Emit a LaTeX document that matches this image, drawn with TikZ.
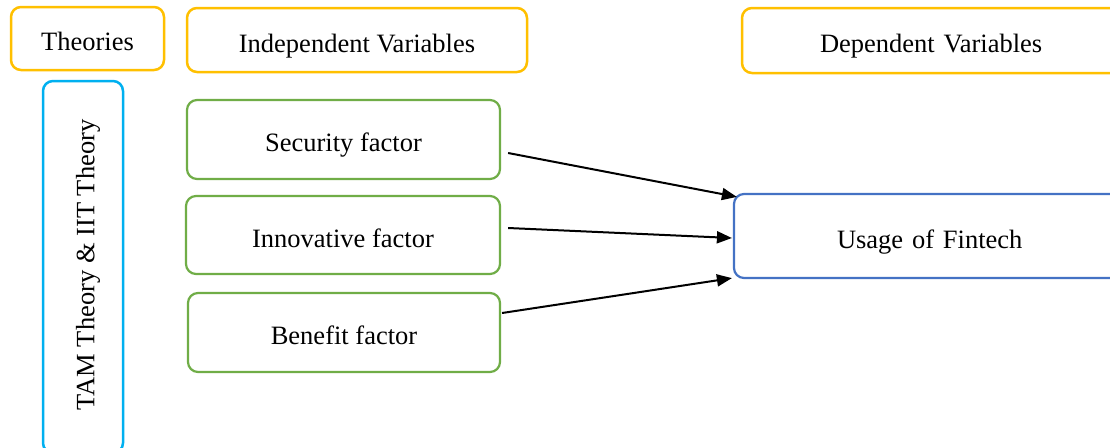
\documentclass[tikz,border=0pt]{standalone}
\usepackage{fontspec}
\setmainfont{Liberation Serif}
\usetikzlibrary{arrows.meta,calc}
\definecolor{hdr}{HTML}{FFC000}
\definecolor{thy}{HTML}{00B0F0}
\definecolor{ivar}{HTML}{70AD47}
\definecolor{dvar}{HTML}{4472C4}
\tikzset{
  txt/.style={font=\fontsize{26.5}{30}\selectfont, text=black},
  box/.style={draw, rounded corners=10pt, inner sep=0pt, txt, text height=24pt, text depth=0pt},
  hdrbox/.style={box, draw=hdr, line width=2.5pt},
  thybox/.style={box, draw=thy, line width=2.5pt},
  ivbox/.style={box, draw=ivar, line width=2.2pt},
  dvbox/.style={box, draw=dvar, line width=2.2pt},
  link/.style={draw=black, line width=2pt, -{Triangle[length=15pt,width=12pt]}}
}
\begin{document}
\begin{tikzpicture}[x=1pt,y=-1pt]
\clip (0,0) rectangle (1110,447);
\fill[white] (0,0) rectangle (1110,447);
\node[hdrbox, minimum width=153pt, minimum height=63pt] (th) at (87.5,38.5) {Theories};
\node[hdrbox, minimum width=340pt, minimum height=64pt] (iv) at (357,40) {Independent Variables};
\node[hdrbox, minimum width=380pt, minimum height=65pt, text width=380pt, align=left] (dv) at (932,40.5) {\hspace{78pt}Dependent Variables};
\node[thybox, minimum width=80pt, minimum height=372pt] (tam) at (83,267) {};
\node[rotate=90, txt] (tamt) at (88,265) {TAM Theory \& IIT Theory};
\node[ivbox, minimum width=313pt, minimum height=79pt] (sec) at (343.5,139.5) {Security factor};
\node[ivbox, minimum width=314pt, minimum height=78pt] (inn) at (343,235) {Innovative factor};
\node[ivbox, minimum width=312pt, minimum height=79pt] (ben) at (344,332.5) {Benefit factor};
\node[dvbox, minimum width=390pt, minimum height=84pt, text width=390pt, align=left] (use) at (929,236) {\hspace{103pt}Usage of Fintech};
\draw[link] ($(sec.east)+(7,13.5)$) -- ($(use.north west)+(4,4)$);
\draw[link] ($(inn.east)+(7,-7)$) -- ($(use.west)+(-1,2)$);
\draw[link] ($(ben.east)+(1,-19.5)$) -- ($(use.south west)+(-1,-1)$);
\end{tikzpicture}
\end{document}
